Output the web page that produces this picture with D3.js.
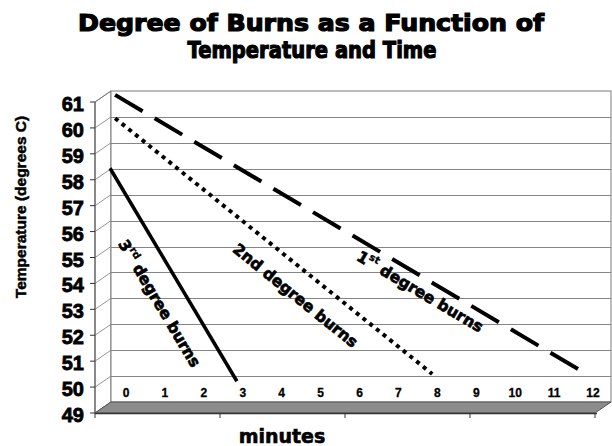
<!DOCTYPE html>
<html>
<head>
<meta charset="utf-8">
<script src="https://cdn.jsdelivr.net/npm/d3@7"></script>
<style>
  body { margin: 0; background: #fff; }
  svg { display: block; }
</style>
</head>
<body>
<svg id="chart" width="612" height="446"></svg>
<script>
// Chart values
const minuteLabels = [0, 1, 2, 3, 4, 5, 6, 7, 8, 9, 10, 11, 12];
const tempTicks = [49, 50, 51, 52, 53, 54, 55, 56, 57, 58, 59, 60, 61];

// burn threshold lines (minutes, degrees C)
const firstDegree = [{ min: -0.28, temp: 60.85 }, { min: 11.75, temp: 50.15 }];
const secondDegree = [{ min: -0.28, temp: 59.95 }, { min: 7.87, temp: 50.08 }];
const thirdDegree = [{ min: -0.41, temp: 58.02 }, { min: 2.85, temp: 49.8 }];

const burnLabels = [
    { num: "3", sup: "rd", rest: " degree burns", min: 0.85, temp: 52.8, series: thirdDegree },
    { num: "2nd", sup: "", rest: " degree burns", min: 4.35, temp: 53.1, series: secondDegree },
    { num: "1", sup: "st", rest: " degree burns", min: 7.55, temp: 53.25, series: firstDegree }
];

const svg = d3.select("#chart");

// front plane of the 3D box, back wall is shifted by depth
const depthX = 16, depthY = -11;
const frontLeft = 95, frontRight = 595;

const y = d3.scaleLinear().domain([49, 61]).range([413, 102]);
const yBack = v => y(v) + depthY;
const x = d3.scaleLinear().domain([0, 12]).range([126, 593]);

// left side wall
svg.append("path")
    .attr("d", `M${frontLeft},${y(61)} L${frontLeft + depthX},${yBack(61)} L${frontLeft + depthX},${yBack(49)} L${frontLeft},${y(49)} Z`)
    .attr("fill", "#fff")
    .attr("stroke", "#7a7a7a");

// back wall
svg.append("rect")
    .attr("x", frontLeft + depthX)
    .attr("y", yBack(61))
    .attr("width", frontRight - frontLeft)
    .attr("height", yBack(49) - yBack(61))
    .attr("fill", "#fff")
    .attr("stroke", "#7a7a7a");

// gridlines on back wall and side wall
svg.append("g")
    .selectAll("line")
    .data(tempTicks.filter(t => t > 49 && t < 61))
    .join("line")
    .attr("x1", frontLeft + depthX)
    .attr("x2", frontRight + depthX)
    .attr("y1", d => Math.round(yBack(d)) + 0.5)
    .attr("y2", d => Math.round(yBack(d)) + 0.5)
    .attr("stroke", "#858585");

svg.append("g")
    .selectAll("line")
    .data(tempTicks)
    .join("line")
    .attr("x1", frontLeft)
    .attr("y1", d => y(d))
    .attr("x2", frontLeft + depthX)
    .attr("y2", d => yBack(d))
    .attr("stroke", "#7a7a7a")
    .attr("stroke-width", 0.8);

// floor
svg.append("path")
    .attr("d", `M${frontLeft},${y(49)} L${frontLeft + depthX},${yBack(49)} L${frontRight + depthX},${yBack(49)} L${frontRight},${y(49)} Z`)
    .attr("fill", "#8c8c8c")
    .attr("stroke", "#555")
    .attr("stroke-width", 1);

// front axes
svg.append("line")
    .attr("x1", frontLeft).attr("x2", frontLeft)
    .attr("y1", y(61)).attr("y2", y(49))
    .attr("stroke", "#555");
svg.append("line")
    .attr("x1", frontLeft).attr("x2", frontRight + 2)
    .attr("y1", y(49) + 0.5).attr("y2", y(49) + 0.5)
    .attr("stroke", "#333").attr("stroke-width", 1.5);

// y ticks and labels
svg.append("g")
    .selectAll("line")
    .data(tempTicks)
    .join("line")
    .attr("x1", frontLeft - 5).attr("x2", frontLeft)
    .attr("y1", d => y(d)).attr("y2", d => y(d))
    .attr("stroke", "#333");

svg.append("g")
    .selectAll("text")
    .data(tempTicks)
    .join("text")
    .attr("x", 84)
    .attr("y", d => y(d) + 2)
    .attr("text-anchor", "end")
    .attr("dominant-baseline", "central")
    .attr("font-family", "Liberation Sans, Arial, sans-serif")
    .attr("font-weight", "bold")
    .attr("font-size", 20)
    .attr("stroke", "#000")
    .attr("stroke-width", 0.8)
    .text(d => d);

// bottom tick marks
const bottomTicks = [0, 1, 2, 3, 4];
svg.append("g")
    .selectAll("line")
    .data(bottomTicks)
    .join("line")
    .attr("x1", d => frontLeft + d * (frontRight - frontLeft) / 4)
    .attr("x2", d => frontLeft + d * (frontRight - frontLeft) / 4)
    .attr("y1", y(49)).attr("y2", y(49) + 5)
    .attr("stroke", "#333");

// minute labels on back wall
svg.append("g")
    .selectAll("text")
    .data(minuteLabels)
    .join("text")
    .attr("x", d => x(d))
    .attr("y", 393)
    .attr("text-anchor", "middle")
    .attr("dominant-baseline", "central")
    .attr("font-family", "Liberation Sans, Arial, sans-serif")
    .attr("font-weight", "bold")
    .attr("font-size", 12)
    .attr("stroke", "#000")
    .attr("stroke-width", 0.3)
    .text(d => d);

// burn lines
const line = d3.line().x(d => x(d.min)).y(d => yBack(d.temp));

svg.append("path")
    .datum(firstDegree)
    .attr("d", line)
    .attr("fill", "none")
    .attr("stroke", "#000")
    .attr("stroke-width", 4)
    .attr("stroke-dasharray", "32,14");

svg.append("path")
    .datum(secondDegree)
    .attr("d", line)
    .attr("fill", "none")
    .attr("stroke", "#000")
    .attr("stroke-width", 4)
    .attr("stroke-dasharray", "4,4.6");

svg.append("path")
    .datum(thirdDegree)
    .attr("d", line)
    .attr("fill", "none")
    .attr("stroke", "#000")
    .attr("stroke-width", 3.5);

// rotated labels along each line
burnLabels.forEach(lb => {
    const p0 = lb.series[0], p1 = lb.series[1];
    const angle = Math.atan2(yBack(p1.temp) - yBack(p0.temp), x(p1.min) - x(p0.min)) * 180 / Math.PI;
    const t = svg.append("text")
        .attr("transform", `translate(${x(lb.min)},${yBack(lb.temp)}) rotate(${angle})`)
        .attr("text-anchor", "middle")
        .attr("dominant-baseline", "central")
        .attr("font-family", "DejaVu Sans, sans-serif")
        .attr("font-weight", "bold")
        .attr("font-size", 15.5)
        .attr("stroke", "#000")
        .attr("stroke-width", 0.7);
    t.append("tspan").text(lb.num);
    if (lb.sup) {
        t.append("tspan").attr("dy", -6).attr("font-size", 10).attr("stroke-width", 0.3).text(lb.sup);
        t.append("tspan").attr("dy", 6).text(lb.rest);
    } else {
        t.append("tspan").text(lb.rest);
    }
});

// title
svg.append("text")
    .attr("x", 311).attr("y", 31)
    .attr("text-anchor", "middle")
    .attr("font-family", "DejaVu Sans, sans-serif")
    .attr("font-weight", "bold")
    .attr("font-size", 23)
    .attr("stroke", "#000")
    .attr("stroke-width", 1.2)
    .attr("textLength", 466)
    .attr("lengthAdjust", "spacingAndGlyphs")
    .text("Degree of Burns as a Function of");
svg.append("text")
    .attr("x", 312).attr("y", 58)
    .attr("text-anchor", "middle")
    .attr("font-family", "DejaVu Sans, sans-serif")
    .attr("font-weight", "bold")
    .attr("font-size", 23)
    .attr("stroke", "#000")
    .attr("stroke-width", 1.2)
    .attr("textLength", 249)
    .attr("lengthAdjust", "spacingAndGlyphs")
    .text("Temperature and Time");

// axis titles
svg.append("text")
    .attr("transform", "translate(20,207) rotate(-90)")
    .attr("text-anchor", "middle")
    .attr("dominant-baseline", "central")
    .attr("font-family", "Liberation Sans, Arial, sans-serif")
    .attr("font-weight", "bold")
    .attr("font-size", 15.5)
    .attr("stroke", "#000")
    .attr("stroke-width", 0.5)
    .text("Temperature (degrees C)");

svg.append("text")
    .attr("x", 282).attr("y", 443)
    .attr("text-anchor", "middle")
    .attr("font-family", "DejaVu Sans, sans-serif")
    .attr("font-weight", "bold")
    .attr("font-size", 19)
    .attr("stroke", "#000")
    .attr("stroke-width", 0.6)
    .text("minutes");
</script>
</body>
</html>
